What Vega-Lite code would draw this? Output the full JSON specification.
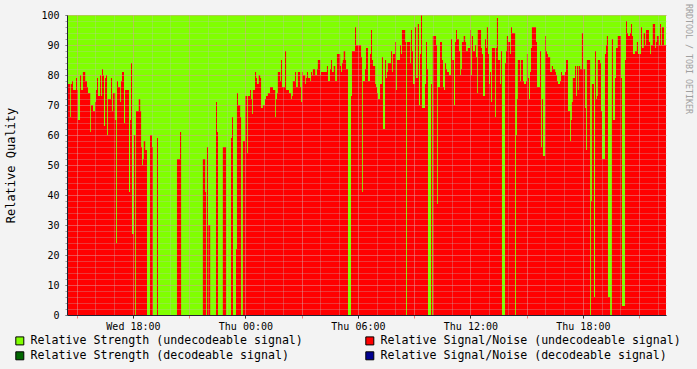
{
  "$schema": "https://vega.github.io/schema/vega-lite/v6.json",
  "width": 599,
  "height": 300,
  "autosize": {"type": "none"},
  "padding": {"left": 67, "top": 15, "right": 31, "bottom": 54},
  "background": "#f3f3f3",
  "title": {"text": "RRDTOOL / TOBI OETIKER", "orient": "right", "anchor": "start", "font": "DejaVu Sans Mono", "fontSize": 8.3, "fontWeight": "normal", "color": "#a0a0a0", "offset": -1.5, "baseline": "middle", "dx": -6},
  "config": {
    "view": {"stroke": null},
    "font": "DejaVu Sans Mono"
  },
  "data": {"values": [
    {"t":"2008-01-02T14:29","sn":81,"rs":100},{"t":"2008-01-02T14:32","sn":77,"rs":100},{"t":"2008-01-02T14:39","sn":66,"rs":100},{"t":"2008-01-02T14:42","sn":77,"rs":100},{"t":"2008-01-02T14:45","sn":78,"rs":100},{"t":"2008-01-02T14:48","sn":75,"rs":100},{"t":"2008-01-02T14:58","sn":79,"rs":100},{"t":"2008-01-02T15:01","sn":75,"rs":100},{"t":"2008-01-02T15:04","sn":65,"rs":100},{"t":"2008-01-02T15:11","sn":80,"rs":100},{"t":"2008-01-02T15:14","sn":75,"rs":100},{"t":"2008-01-02T15:20","sn":81,"rs":100},{"t":"2008-01-02T15:27","sn":78,"rs":100},{"t":"2008-01-02T15:33","sn":76,"rs":100},{"t":"2008-01-02T15:36","sn":74,"rs":100},{"t":"2008-01-02T15:43","sn":61,"rs":100},{"t":"2008-01-02T15:46","sn":70,"rs":100},{"t":"2008-01-02T15:52","sn":68,"rs":100},{"t":"2008-01-02T15:59","sn":71,"rs":100},{"t":"2008-01-02T16:02","sn":75,"rs":100},{"t":"2008-01-02T16:05","sn":79,"rs":100},{"t":"2008-01-02T16:08","sn":73,"rs":100},{"t":"2008-01-02T16:15","sn":80,"rs":100},{"t":"2008-01-02T16:18","sn":73,"rs":100},{"t":"2008-01-02T16:21","sn":82,"rs":100},{"t":"2008-01-02T16:24","sn":80,"rs":100},{"t":"2008-01-02T16:27","sn":63,"rs":100},{"t":"2008-01-02T16:31","sn":79,"rs":100},{"t":"2008-01-02T16:34","sn":80,"rs":100},{"t":"2008-01-02T16:37","sn":60,"rs":100},{"t":"2008-01-02T16:40","sn":72,"rs":100},{"t":"2008-01-02T16:50","sn":79,"rs":100},{"t":"2008-01-02T16:53","sn":68,"rs":100},{"t":"2008-01-02T16:56","sn":74,"rs":100},{"t":"2008-01-02T17:03","sn":65,"rs":100},{"t":"2008-01-02T17:06","sn":24,"rs":100},{"t":"2008-01-02T17:09","sn":78,"rs":100},{"t":"2008-01-02T17:12","sn":76,"rs":100},{"t":"2008-01-02T17:19","sn":71,"rs":100},{"t":"2008-01-02T17:22","sn":78,"rs":100},{"t":"2008-01-02T17:25","sn":81,"rs":100},{"t":"2008-01-02T17:31","sn":64,"rs":100},{"t":"2008-01-02T17:35","sn":75,"rs":100},{"t":"2008-01-02T17:47","sn":41,"rs":100},{"t":"2008-01-02T17:51","sn":65,"rs":100},{"t":"2008-01-02T17:54","sn":84,"rs":100},{"t":"2008-01-02T17:57","sn":27,"rs":100},{"t":"2008-01-02T18:03","sn":60,"rs":100},{"t":"2008-01-02T18:07","sn":0,"rs":100},{"t":"2008-01-02T18:10","sn":68,"rs":100},{"t":"2008-01-02T18:19","sn":72,"rs":100},{"t":"2008-01-02T18:23","sn":68,"rs":100},{"t":"2008-01-02T18:26","sn":56,"rs":100},{"t":"2008-01-02T18:29","sn":50,"rs":100},{"t":"2008-01-02T18:32","sn":52,"rs":100},{"t":"2008-01-02T18:35","sn":58,"rs":100},{"t":"2008-01-02T18:39","sn":55,"rs":100},{"t":"2008-01-02T18:45","sn":0,"rs":100},{"t":"2008-01-02T18:55","sn":60,"rs":100},{"t":"2008-01-02T19:01","sn":56,"rs":100},{"t":"2008-01-02T19:04","sn":0,"rs":100},{"t":"2008-01-02T19:17","sn":59,"rs":100},{"t":"2008-01-02T19:20","sn":0,"rs":100},{"t":"2008-01-02T20:21","sn":52,"rs":100},{"t":"2008-01-02T20:31","sn":61,"rs":100},{"t":"2008-01-02T20:34","sn":0,"rs":100},{"t":"2008-01-02T21:44","sn":52,"rs":100},{"t":"2008-01-02T21:51","sn":41,"rs":100},{"t":"2008-01-02T21:54","sn":0,"rs":100},{"t":"2008-01-02T21:57","sn":56,"rs":100},{"t":"2008-01-02T22:00","sn":30,"rs":100},{"t":"2008-01-02T22:07","sn":0,"rs":100},{"t":"2008-01-02T22:26","sn":71,"rs":100},{"t":"2008-01-02T22:29","sn":61,"rs":100},{"t":"2008-01-02T22:32","sn":0,"rs":100},{"t":"2008-01-02T22:48","sn":56,"rs":100},{"t":"2008-01-02T22:58","sn":0,"rs":100},{"t":"2008-01-02T23:14","sn":59,"rs":100},{"t":"2008-01-02T23:17","sn":66,"rs":100},{"t":"2008-01-02T23:20","sn":0,"rs":100},{"t":"2008-01-02T23:30","sn":22,"rs":100},{"t":"2008-01-02T23:33","sn":74,"rs":100},{"t":"2008-01-02T23:36","sn":70,"rs":100},{"t":"2008-01-02T23:43","sn":66,"rs":100},{"t":"2008-01-02T23:46","sn":0,"rs":100},{"t":"2008-01-02T23:52","sn":58,"rs":100},{"t":"2008-01-02T23:59","sn":73,"rs":100},
    {"t":"2008-01-03T00:05","sn":54,"rs":100},{"t":"2008-01-03T00:08","sn":73,"rs":100},{"t":"2008-01-03T00:15","sn":75,"rs":100},{"t":"2008-01-03T00:18","sn":72,"rs":100},{"t":"2008-01-03T00:21","sn":67,"rs":100},{"t":"2008-01-03T00:24","sn":75,"rs":100},{"t":"2008-01-03T00:31","sn":81,"rs":100},{"t":"2008-01-03T00:34","sn":79,"rs":100},{"t":"2008-01-03T00:37","sn":77,"rs":100},{"t":"2008-01-03T00:43","sn":80,"rs":100},{"t":"2008-01-03T00:47","sn":79,"rs":100},{"t":"2008-01-03T00:50","sn":69,"rs":100},{"t":"2008-01-03T00:56","sn":70,"rs":100},{"t":"2008-01-03T01:03","sn":72,"rs":100},{"t":"2008-01-03T01:06","sn":73,"rs":100},{"t":"2008-01-03T01:12","sn":74,"rs":100},{"t":"2008-01-03T01:19","sn":76,"rs":100},{"t":"2008-01-03T01:28","sn":75,"rs":100},{"t":"2008-01-03T01:35","sn":66,"rs":100},{"t":"2008-01-03T01:38","sn":72,"rs":100},{"t":"2008-01-03T01:41","sn":74,"rs":100},{"t":"2008-01-03T01:44","sn":81,"rs":100},{"t":"2008-01-03T01:51","sn":78,"rs":100},{"t":"2008-01-03T01:54","sn":85,"rs":100},{"t":"2008-01-03T01:57","sn":76,"rs":100},{"t":"2008-01-03T02:07","sn":88,"rs":100},{"t":"2008-01-03T02:10","sn":75,"rs":100},{"t":"2008-01-03T02:19","sn":74,"rs":100},{"t":"2008-01-03T02:26","sn":72,"rs":100},{"t":"2008-01-03T02:29","sn":73,"rs":100},{"t":"2008-01-03T02:32","sn":78,"rs":100},{"t":"2008-01-03T02:39","sn":81,"rs":100},{"t":"2008-01-03T02:42","sn":76,"rs":100},{"t":"2008-01-03T02:48","sn":81,"rs":100},{"t":"2008-01-03T02:55","sn":76,"rs":100},{"t":"2008-01-03T02:58","sn":71,"rs":100},{"t":"2008-01-03T03:01","sn":81,"rs":100},{"t":"2008-01-03T03:04","sn":80,"rs":100},{"t":"2008-01-03T03:11","sn":77,"rs":100},{"t":"2008-01-03T03:14","sn":79,"rs":100},{"t":"2008-01-03T03:17","sn":81,"rs":100},{"t":"2008-01-03T03:20","sn":79,"rs":100},{"t":"2008-01-03T03:27","sn":78,"rs":100},{"t":"2008-01-03T03:30","sn":81,"rs":100},{"t":"2008-01-03T03:33","sn":80,"rs":100},{"t":"2008-01-03T03:36","sn":82,"rs":100},{"t":"2008-01-03T03:43","sn":80,"rs":100},{"t":"2008-01-03T03:49","sn":82,"rs":100},{"t":"2008-01-03T03:52","sn":85,"rs":100},{"t":"2008-01-03T03:59","sn":80,"rs":100},{"t":"2008-01-03T04:02","sn":81,"rs":100},{"t":"2008-01-03T04:21","sn":83,"rs":100},{"t":"2008-01-03T04:24","sn":78,"rs":100},{"t":"2008-01-03T04:31","sn":82,"rs":100},{"t":"2008-01-03T04:34","sn":85,"rs":100},{"t":"2008-01-03T04:37","sn":81,"rs":100},{"t":"2008-01-03T04:43","sn":83,"rs":100},{"t":"2008-01-03T04:47","sn":78,"rs":100},{"t":"2008-01-03T04:53","sn":87,"rs":100},{"t":"2008-01-03T05:03","sn":83,"rs":100},{"t":"2008-01-03T05:06","sn":81,"rs":100},{"t":"2008-01-03T05:09","sn":84,"rs":100},{"t":"2008-01-03T05:12","sn":85,"rs":100},{"t":"2008-01-03T05:15","sn":88,"rs":100},{"t":"2008-01-03T05:19","sn":85,"rs":100},{"t":"2008-01-03T05:22","sn":82,"rs":100},{"t":"2008-01-03T05:28","sn":0,"rs":100},{"t":"2008-01-03T05:38","sn":73,"rs":100},{"t":"2008-01-03T05:41","sn":88,"rs":100},{"t":"2008-01-03T05:51","sn":96,"rs":100},{"t":"2008-01-03T05:54","sn":90,"rs":100},{"t":"2008-01-03T06:10","sn":86,"rs":100},{"t":"2008-01-03T06:13","sn":41,"rs":100},{"t":"2008-01-03T06:16","sn":78,"rs":100},{"t":"2008-01-03T06:23","sn":82,"rs":100},{"t":"2008-01-03T06:26","sn":89,"rs":100},{"t":"2008-01-03T06:32","sn":78,"rs":100},{"t":"2008-01-03T06:39","sn":87,"rs":100},{"t":"2008-01-03T06:42","sn":95,"rs":100},{"t":"2008-01-03T06:45","sn":85,"rs":100},{"t":"2008-01-03T06:48","sn":83,"rs":100},{"t":"2008-01-03T06:55","sn":77,"rs":100},{"t":"2008-01-03T06:58","sn":76,"rs":100},{"t":"2008-01-03T07:01","sn":74,"rs":100},{"t":"2008-01-03T07:04","sn":72,"rs":100},{"t":"2008-01-03T07:11","sn":77,"rs":100},{"t":"2008-01-03T07:17","sn":86,"rs":100},{"t":"2008-01-03T07:20","sn":62,"rs":100},{"t":"2008-01-03T07:27","sn":85,"rs":100},{"t":"2008-01-03T07:30","sn":79,"rs":100},{"t":"2008-01-03T07:33","sn":81,"rs":100},{"t":"2008-01-03T07:36","sn":84,"rs":100},{"t":"2008-01-03T07:46","sn":88,"rs":100},{"t":"2008-01-03T07:49","sn":81,"rs":100},{"t":"2008-01-03T07:52","sn":87,"rs":100},{"t":"2008-01-03T07:59","sn":91,"rs":100},{"t":"2008-01-03T08:02","sn":75,"rs":100},{"t":"2008-01-03T08:05","sn":85,"rs":100},{"t":"2008-01-03T08:15","sn":90,"rs":100},{"t":"2008-01-03T08:18","sn":87,"rs":100},{"t":"2008-01-03T08:21","sn":95,"rs":100},{"t":"2008-01-03T08:31","sn":91,"rs":100},{"t":"2008-01-03T08:34","sn":0,"rs":100},{"t":"2008-01-03T08:37","sn":91,"rs":100},{"t":"2008-01-03T08:47","sn":84,"rs":100},{"t":"2008-01-03T08:50","sn":95,"rs":100},{"t":"2008-01-03T08:53","sn":88,"rs":100},{"t":"2008-01-03T08:56","sn":77,"rs":100},{"t":"2008-01-03T09:03","sn":96,"rs":100},{"t":"2008-01-03T09:06","sn":79,"rs":100},{"t":"2008-01-03T09:12","sn":97,"rs":100},{"t":"2008-01-03T09:15","sn":70,"rs":100},{"t":"2008-01-03T09:19","sn":87,"rs":100},{"t":"2008-01-03T09:22","sn":100,"rs":100},{"t":"2008-01-03T09:25","sn":69,"rs":100},{"t":"2008-01-03T09:35","sn":77,"rs":100},{"t":"2008-01-03T09:38","sn":91,"rs":100},{"t":"2008-01-03T09:41","sn":82,"rs":100},{"t":"2008-01-03T09:44","sn":0,"rs":100},{"t":"2008-01-03T09:54","sn":77,"rs":100},{"t":"2008-01-03T09:57","sn":0,"rs":100},{"t":"2008-01-03T10:00","sn":93,"rs":100},{"t":"2008-01-03T10:10","sn":90,"rs":100},{"t":"2008-01-03T10:13","sn":37,"rs":100},{"t":"2008-01-03T10:16","sn":76,"rs":100},{"t":"2008-01-03T10:23","sn":91,"rs":100},{"t":"2008-01-03T10:29","sn":85,"rs":100},{"t":"2008-01-03T10:32","sn":76,"rs":100},{"t":"2008-01-03T10:35","sn":75,"rs":100},{"t":"2008-01-03T10:39","sn":84,"rs":100},{"t":"2008-01-03T10:42","sn":82,"rs":100},{"t":"2008-01-03T10:45","sn":81,"rs":100},{"t":"2008-01-03T10:51","sn":80,"rs":100},{"t":"2008-01-03T10:58","sn":92,"rs":100},{"t":"2008-01-03T11:01","sn":85,"rs":100},{"t":"2008-01-03T11:07","sn":70,"rs":100},{"t":"2008-01-03T11:11","sn":91,"rs":100},{"t":"2008-01-03T11:14","sn":95,"rs":100},{"t":"2008-01-03T11:17","sn":92,"rs":100},{"t":"2008-01-03T11:23","sn":88,"rs":100},{"t":"2008-01-03T11:27","sn":80,"rs":100},{"t":"2008-01-03T11:30","sn":82,"rs":100},{"t":"2008-01-03T11:33","sn":91,"rs":100},{"t":"2008-01-03T11:39","sn":93,"rs":100},{"t":"2008-01-03T11:43","sn":91,"rs":100},{"t":"2008-01-03T11:46","sn":88,"rs":100},{"t":"2008-01-03T11:52","sn":89,"rs":100},{"t":"2008-01-03T11:59","sn":95,"rs":100},{"t":"2008-01-03T12:02","sn":80,"rs":100},{"t":"2008-01-03T12:05","sn":93,"rs":100},{"t":"2008-01-03T12:08","sn":88,"rs":100},{"t":"2008-01-03T12:15","sn":90,"rs":100},{"t":"2008-01-03T12:18","sn":86,"rs":100},{"t":"2008-01-03T12:21","sn":74,"rs":100},{"t":"2008-01-03T12:24","sn":95,"rs":100},{"t":"2008-01-03T12:34","sn":89,"rs":100},{"t":"2008-01-03T12:37","sn":87,"rs":100},{"t":"2008-01-03T12:40","sn":73,"rs":100},{"t":"2008-01-03T12:47","sn":92,"rs":100},{"t":"2008-01-03T12:50","sn":89,"rs":100},{"t":"2008-01-03T12:53","sn":96,"rs":100},{"t":"2008-01-03T12:56","sn":87,"rs":100},{"t":"2008-01-03T12:59","sn":77,"rs":100},{"t":"2008-01-03T13:03","sn":81,"rs":100},{"t":"2008-01-03T13:06","sn":71,"rs":100},{"t":"2008-01-03T13:09","sn":89,"rs":100},{"t":"2008-01-03T13:19","sn":66,"rs":100},{"t":"2008-01-03T13:22","sn":89,"rs":100},{"t":"2008-01-03T13:25","sn":99,"rs":100},{"t":"2008-01-03T13:28","sn":85,"rs":100},{"t":"2008-01-03T13:35","sn":77,"rs":100},{"t":"2008-01-03T13:38","sn":88,"rs":100},{"t":"2008-01-03T13:41","sn":0,"rs":100},{"t":"2008-01-03T13:51","sn":84,"rs":100},{"t":"2008-01-03T13:54","sn":88,"rs":100},{"t":"2008-01-03T13:57","sn":93,"rs":100},{"t":"2008-01-03T14:00","sn":91,"rs":100},{"t":"2008-01-03T14:07","sn":87,"rs":100},{"t":"2008-01-03T14:10","sn":96,"rs":100},{"t":"2008-01-03T14:13","sn":94,"rs":100},{"t":"2008-01-03T14:23","sn":0,"rs":100},{"t":"2008-01-03T14:26","sn":60,"rs":100},{"t":"2008-01-03T14:29","sn":72,"rs":100},{"t":"2008-01-03T14:32","sn":85,"rs":100},{"t":"2008-01-03T14:39","sn":78,"rs":100},{"t":"2008-01-03T14:42","sn":85,"rs":100},{"t":"2008-01-03T14:48","sn":78,"rs":100},{"t":"2008-01-03T14:51","sn":77,"rs":100},{"t":"2008-01-03T14:58","sn":78,"rs":100},{"t":"2008-01-03T15:01","sn":87,"rs":100},{"t":"2008-01-03T15:04","sn":79,"rs":100},{"t":"2008-01-03T15:07","sn":72,"rs":100},{"t":"2008-01-03T15:11","sn":81,"rs":100},{"t":"2008-01-03T15:14","sn":89,"rs":100},{"t":"2008-01-03T15:17","sn":96,"rs":100},{"t":"2008-01-03T15:30","sn":91,"rs":100},{"t":"2008-01-03T15:33","sn":76,"rs":100},{"t":"2008-01-03T15:43","sn":88,"rs":100},{"t":"2008-01-03T15:46","sn":56,"rs":100},{"t":"2008-01-03T15:49","sn":72,"rs":100},{"t":"2008-01-03T15:52","sn":53,"rs":100},{"t":"2008-01-03T15:59","sn":93,"rs":100},{"t":"2008-01-03T16:02","sn":88,"rs":100},{"t":"2008-01-03T16:05","sn":87,"rs":100},{"t":"2008-01-03T16:08","sn":86,"rs":100},{"t":"2008-01-03T16:15","sn":81,"rs":100},{"t":"2008-01-03T16:21","sn":83,"rs":100},{"t":"2008-01-03T16:24","sn":82,"rs":100},{"t":"2008-01-03T16:31","sn":81,"rs":100},{"t":"2008-01-03T16:34","sn":80,"rs":100},{"t":"2008-01-03T16:37","sn":78,"rs":100},{"t":"2008-01-03T16:40","sn":77,"rs":100},{"t":"2008-01-03T16:47","sn":78,"rs":100},{"t":"2008-01-03T16:50","sn":81,"rs":100},{"t":"2008-01-03T16:53","sn":80,"rs":100},{"t":"2008-01-03T17:03","sn":81,"rs":100},{"t":"2008-01-03T17:06","sn":85,"rs":100},{"t":"2008-01-03T17:12","sn":68,"rs":100},{"t":"2008-01-03T17:19","sn":58,"rs":100},{"t":"2008-01-03T17:22","sn":65,"rs":100},{"t":"2008-01-03T17:25","sn":71,"rs":100},{"t":"2008-01-03T17:28","sn":79,"rs":100},{"t":"2008-01-03T17:35","sn":83,"rs":100},{"t":"2008-01-03T17:38","sn":73,"rs":100},{"t":"2008-01-03T17:41","sn":83,"rs":100},{"t":"2008-01-03T17:44","sn":75,"rs":100},{"t":"2008-01-03T17:47","sn":83,"rs":100},{"t":"2008-01-03T17:51","sn":82,"rs":100},{"t":"2008-01-03T17:57","sn":94,"rs":100},{"t":"2008-01-03T18:00","sn":82,"rs":100},{"t":"2008-01-03T18:07","sn":69,"rs":100},{"t":"2008-01-03T18:10","sn":55,"rs":100},{"t":"2008-01-03T18:13","sn":85,"rs":100},{"t":"2008-01-03T18:23","sn":0,"rs":100},{"t":"2008-01-03T18:26","sn":38,"rs":100},{"t":"2008-01-03T18:29","sn":77,"rs":100},{"t":"2008-01-03T18:35","sn":6,"rs":100},{"t":"2008-01-03T18:39","sn":88,"rs":100},{"t":"2008-01-03T18:42","sn":72,"rs":100},{"t":"2008-01-03T18:45","sn":73,"rs":100},{"t":"2008-01-03T18:48","sn":85,"rs":100},{"t":"2008-01-03T18:55","sn":84,"rs":100},{"t":"2008-01-03T18:58","sn":68,"rs":100},{"t":"2008-01-03T19:01","sn":52,"rs":100},{"t":"2008-01-03T19:11","sn":87,"rs":100},{"t":"2008-01-03T19:14","sn":90,"rs":100},{"t":"2008-01-03T19:17","sn":93,"rs":100},{"t":"2008-01-03T19:20","sn":6,"rs":100},{"t":"2008-01-03T19:27","sn":0,"rs":100},{"t":"2008-01-03T19:33","sn":92,"rs":100},{"t":"2008-01-03T19:36","sn":65,"rs":100},{"t":"2008-01-03T19:43","sn":79,"rs":100},{"t":"2008-01-03T19:46","sn":89,"rs":100},{"t":"2008-01-03T19:52","sn":93,"rs":100},{"t":"2008-01-03T20:02","sn":79,"rs":100},{"t":"2008-01-03T20:05","sn":3,"rs":100},{"t":"2008-01-03T20:15","sn":85,"rs":100},{"t":"2008-01-03T20:18","sn":98,"rs":100},{"t":"2008-01-03T20:21","sn":94,"rs":100},{"t":"2008-01-03T20:24","sn":93,"rs":100},{"t":"2008-01-03T20:31","sn":94,"rs":100},{"t":"2008-01-03T20:34","sn":97,"rs":100},{"t":"2008-01-03T20:37","sn":93,"rs":100},{"t":"2008-01-03T20:40","sn":87,"rs":100},{"t":"2008-01-03T20:47","sn":88,"rs":100},{"t":"2008-01-03T20:53","sn":91,"rs":100},{"t":"2008-01-03T20:56","sn":87,"rs":100},{"t":"2008-01-03T21:06","sn":96,"rs":100},{"t":"2008-01-03T21:09","sn":89,"rs":100},{"t":"2008-01-03T21:15","sn":94,"rs":100},{"t":"2008-01-03T21:19","sn":90,"rs":100},{"t":"2008-01-03T21:22","sn":95,"rs":100},{"t":"2008-01-03T21:31","sn":91,"rs":100},{"t":"2008-01-03T21:35","sn":87,"rs":100},{"t":"2008-01-03T21:38","sn":90,"rs":100},{"t":"2008-01-03T21:44","sn":97,"rs":100},{"t":"2008-01-03T21:51","sn":89,"rs":100},{"t":"2008-01-03T21:54","sn":91,"rs":100},{"t":"2008-01-03T21:57","sn":93,"rs":100},{"t":"2008-01-03T22:03","sn":90,"rs":100},{"t":"2008-01-03T22:07","sn":97,"rs":100},{"t":"2008-01-03T22:10","sn":90,"rs":100},{"t":"2008-01-03T22:13","sn":96,"rs":100},{"t":"2008-01-03T22:19","sn":90,"rs":100},{"t":"2008-01-03T22:26","sn":90,"rs":100}
  ]},
  "layer": [
    {
      "mark": {"type": "area", "interpolate": "step-after"},
      "encoding": {
        "x": {
          "field": "t", "type": "temporal",
          "scale": {"domain": [{"year": 2008, "month": 1, "date": 2, "hours": 14, "minutes": 29}, {"year": 2008, "month": 1, "date": 3, "hours": 22, "minutes": 26}]},
          "axis": {"orient": "bottom", "title": null, "tickCount": 32, "labels": false, "ticks": false, "domain": false,
                   "grid": true, "gridColor": "#c0c0c0", "gridDash": [1, 1], "gridOpacity": 0.6, "zindex": 1}
        },
        "y": {
          "field": "rs", "type": "quantitative",
          "scale": {"domain": [0, 100], "nice": false},
          "axis": {"orient": "left", "title": null,
                   "values": [0,2,4,6,8,10,12,14,16,18,20,22,24,26,28,30,32,34,36,38,40,42,44,46,48,50,52,54,56,58,60,62,64,66,68,70,72,74,76,78,80,82,84,86,88,90,92,94,96,98,100],
                   "labels": false, "ticks": true, "tickSize": 2, "tickColor": "#a0a0a0", "domain": false,
                   "grid": true, "gridColor": "#c0c0c0", "gridDash": [1, 1], "gridOpacity": 0.6, "zindex": 1}
        },
        "color": {
          "datum": "Relative Strength (undecodeable signal)",
          "scale": {
            "domain": ["Relative Strength (undecodeable signal)", "Relative Strength  (decodeable signal)", "Relative Signal/Noise (undecodeable signal)", "Relative Signal/Noise (decodeable signal)"],
            "range": ["#80ff00", "#006600", "#ff0000", "#000090"]
          },
          "legend": {
            "orient": "none", "legendX": -53, "legendY": 320, "columns": 2, "columnPadding": 60, "rowPadding": 2,
            "title": null, "symbolType": "square", "symbolSize": 64, "symbolStrokeColor": "#000000", "symbolStrokeWidth": 1, "symbolOpacity": 1,
            "labelFont": "DejaVu Sans Mono", "labelFontSize": 11.6, "labelColor": "#000000", "labelOffset": 5, "labelLimit": 500, "padding": 0
          }
        }
      }
    },
    {
      "mark": {"type": "area", "interpolate": "step-after"},
      "encoding": {
        "x": {
          "field": "t", "type": "temporal",
          "axis": {"orient": "bottom", "title": null, "tickCount": 11, "labels": false, "ticks": true, "tickSize": 3, "tickColor": "#f58080", "domain": false,
                   "grid": true, "gridColor": "#f58080", "gridDash": [1, 1], "gridOpacity": 0.6, "zindex": 1}
        },
        "y": {
          "field": "sn", "type": "quantitative",
          "axis": {"orient": "left", "title": "Relative Quality", "titleFont": "DejaVu Sans Mono", "titleFontSize": 12, "titleFontWeight": "normal", "titleColor": "#000000",
                   "titleX": -57, "titleY": 150, "titleAngle": -90, "titleAlign": "center", "titleBaseline": "middle",
                   "values": [0,10,20,30,40,50,60,70,80,90,100],
                   "labelFont": "DejaVu Sans Mono", "labelFontSize": 10, "labelColor": "#000000", "labelPadding": 6,
                   "tickSize": 2, "tickColor": "#808080",
                   "grid": true, "gridColor": "#f58080", "gridDash": [1, 1], "gridOpacity": 0.6,
                   "domain": true, "domainColor": "#222233", "zindex": 1}
        },
        "color": {"datum": "Relative Signal/Noise (undecodeable signal)"}
      }
    },
    {
      "mark": {"type": "area", "interpolate": "step-after"},
      "encoding": {
        "x": {
          "field": "t", "type": "temporal",
          "axis": {"orient": "bottom", "title": null, "tickCount": 5, "format": "%a %H:%M", "labelFlush": false, "labelOverlap": false,
                   "labelFont": "DejaVu Sans Mono", "labelFontSize": 10, "labelColor": "#000000", "labelPadding": 3,
                   "ticks": true, "tickSize": 3, "tickColor": "#333333", "grid": false,
                   "domain": true, "domainColor": "#222233", "zindex": 1}
        },
        "y": {"field": "sn", "type": "quantitative", "axis": null},
        "color": {"datum": "Relative Signal/Noise (undecodeable signal)"}
      }
    }
  ],
  "resolve": {"axis": {"x": "independent", "y": "independent"}}
}
